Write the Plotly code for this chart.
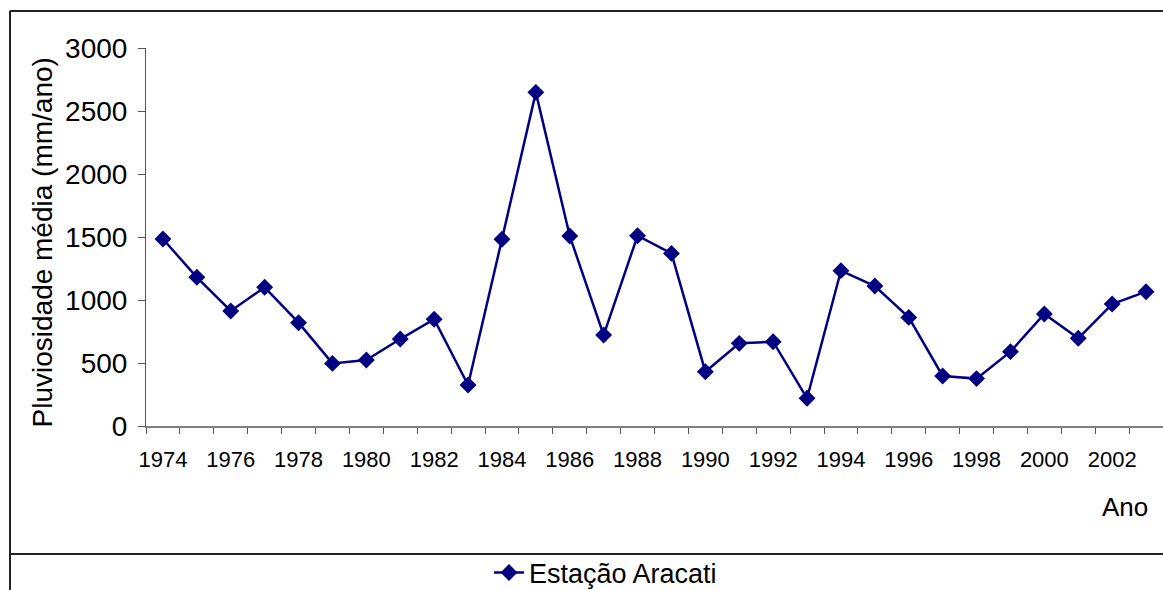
import plotly.graph_objects as go

# Annual mean rainfall at the Aracati station
anos = list(range(1974, 2004))
pluviosidade = [1484, 1180, 913, 1101, 820, 497, 524, 690, 847, 325,
                1482, 2648, 1508, 722, 1510, 1370, 431, 656, 669, 220,
                1233, 1111, 862, 397, 376, 590, 889, 696, 968, 1066]
serie_nome = "Estação Aracati"
rotulos_x = anos[::2]
ticks_y = [0, 500, 1000, 1500, 2000, 2500, 3000]

FONT = "Liberation Sans, Arial, sans-serif"
AZUL = "#000080"
W, H = 1163, 590
L, R, T, B = 146, 0, 48, 164
pw, ph = W - L - R, H - T - B


def px_x(p):
    return (p - L) / pw


def px_y(p):
    return (H - B - p) / ph


fig = go.Figure()
fig.add_trace(go.Scatter(
    x=anos, y=pluviosidade, name=serie_nome, mode="lines+markers",
    line=dict(color=AZUL, width=2.5),
    marker=dict(symbol="diamond", size=13, color=AZUL),
))

fig.update_layout(
    width=W, height=H,
    margin=dict(l=L, r=R, t=T, b=B, autoexpand=False),
    paper_bgcolor="white", plot_bgcolor="white",
    font=dict(family=FONT, color="black"),
    showlegend=True,
    legend=dict(
        orientation="h", xref="container", yref="container",
        x=489 / W, y=1 - 573 / H, xanchor="left", yanchor="middle",
        font=dict(size=27, family=FONT), bgcolor="rgba(0,0,0,0)",
    ),
    xaxis=dict(
        range=[anos[0] - 0.5, anos[-1] + 0.5],
        tickvals=rotulos_x, ticktext=[str(a) for a in rotulos_x],
        ticks="outside", ticklen=13, tickcolor="rgba(0,0,0,0)",
        tickfont=dict(size=22, family=FONT),
        minor=dict(tickvals=[a - 0.5 for a in anos] + [anos[-1] + 0.5],
                   ticks="outside", ticklen=6, tickcolor="#555", tickwidth=1),
        showline=True, linecolor="#808080", linewidth=1.5,
        showgrid=False, zeroline=False,
    ),
    yaxis=dict(
        range=[0, 3000], tickvals=ticks_y,
        ticks="outside", ticklen=7, tickcolor="#555", tickwidth=1,
        ticklabelstandoff=5,
        tickfont=dict(size=28, family=FONT),
        showline=True, linecolor="#555", linewidth=1,
        showgrid=False, zeroline=False,
    ),
    annotations=[
        dict(text="Pluviosidade média (mm/ano)", x=px_x(42.5), y=px_y(243),
             xref="paper", yref="paper", xanchor="center", yanchor="middle",
             textangle=-90, showarrow=False, font=dict(size=28, family=FONT)),
        dict(text="Ano", x=px_x(1150), y=px_y(507), xref="paper", yref="paper",
             xanchor="right", yanchor="middle", showarrow=False,
             font=dict(size=26, family=FONT)),
    ],
    shapes=[
        dict(type="line", xref="paper", yref="paper",
             x0=px_x(10), x1=px_x(W + 5), y0=px_y(11), y1=px_y(11),
             line=dict(color="#222", width=2)),
        dict(type="line", xref="paper", yref="paper",
             x0=px_x(10), x1=px_x(10), y0=px_y(11), y1=px_y(H + 5),
             line=dict(color="#222", width=2)),
        dict(type="line", xref="paper", yref="paper",
             x0=px_x(10), x1=px_x(W + 5), y0=px_y(554), y1=px_y(554),
             line=dict(color="#222", width=2)),
    ],
)

fig.write_html("out.html")
